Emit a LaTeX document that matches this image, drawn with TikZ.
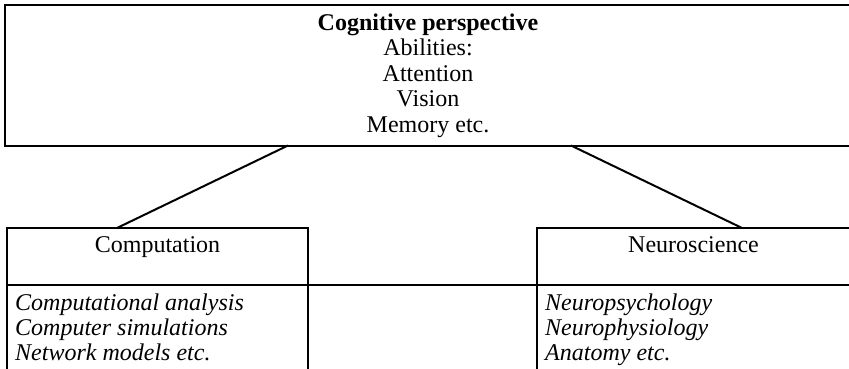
\documentclass[tikz,border=0pt]{standalone}
\usepackage{fontspec}
\setmainfont{Liberation Serif}
\usetikzlibrary{positioning}

\begin{document}
\begin{tikzpicture}[x=1pt,y=1pt,yscale=-1,xscale=1,
  box/.style={draw, line width=2pt, outer sep=0pt, inner sep=0pt,
    font=\fontsize{24}{25.5}\selectfont},
  headbox/.style={box, text height=24pt, text depth=33pt},
  listtext/.style={inner sep=0pt, align=left,
    font=\fontsize{24}{25}\selectfont\itshape},
  link/.style={line width=2pt}]

% --- page size (the boxes run on past the right and bottom edge) ---
\clip (0,0) rectangle (849,369);

% --- top box ---
\node [box, minimum width=846pt, minimum height=140pt, align=center] (cog) at (428,75.5)
  {\textbf{Cognitive perspective}\\Abilities:\\Attention\\Vision\\Memory etc.};

% --- lower boxes ---
\node [headbox, minimum width=301pt] (comp) at (157.5,256.5) {Computation};
\node [box, minimum width=301pt, minimum height=100pt, below=0pt of comp] (complist) {};
\node [listtext, below right=8.5pt and 8pt of complist.north west] (comptext)
  {Computational analysis\\Computer simulations\\Network models etc.};

\node [headbox, minimum width=313pt] (neuro) at (693.5,256.5) {Neuroscience};
\node [box, minimum width=313pt, minimum height=100pt, below=0pt of neuro] (neurolist) {};
\node [listtext, below right=8.5pt and 8pt of neurolist.north west] (neurotext)
  {Neuropsychology\\Neurophysiology\\Anatomy etc.};

% --- connectors ---
\draw [link] ([xshift=-140pt]cog.south) -- ([xshift=-40.5pt]comp.north);
\draw [link] ([xshift=143pt]cog.south) -- ([xshift=48.5pt]neuro.north);
\draw [link] (comp.south east) -- (neuro.south west);

\end{tikzpicture}
\end{document}
